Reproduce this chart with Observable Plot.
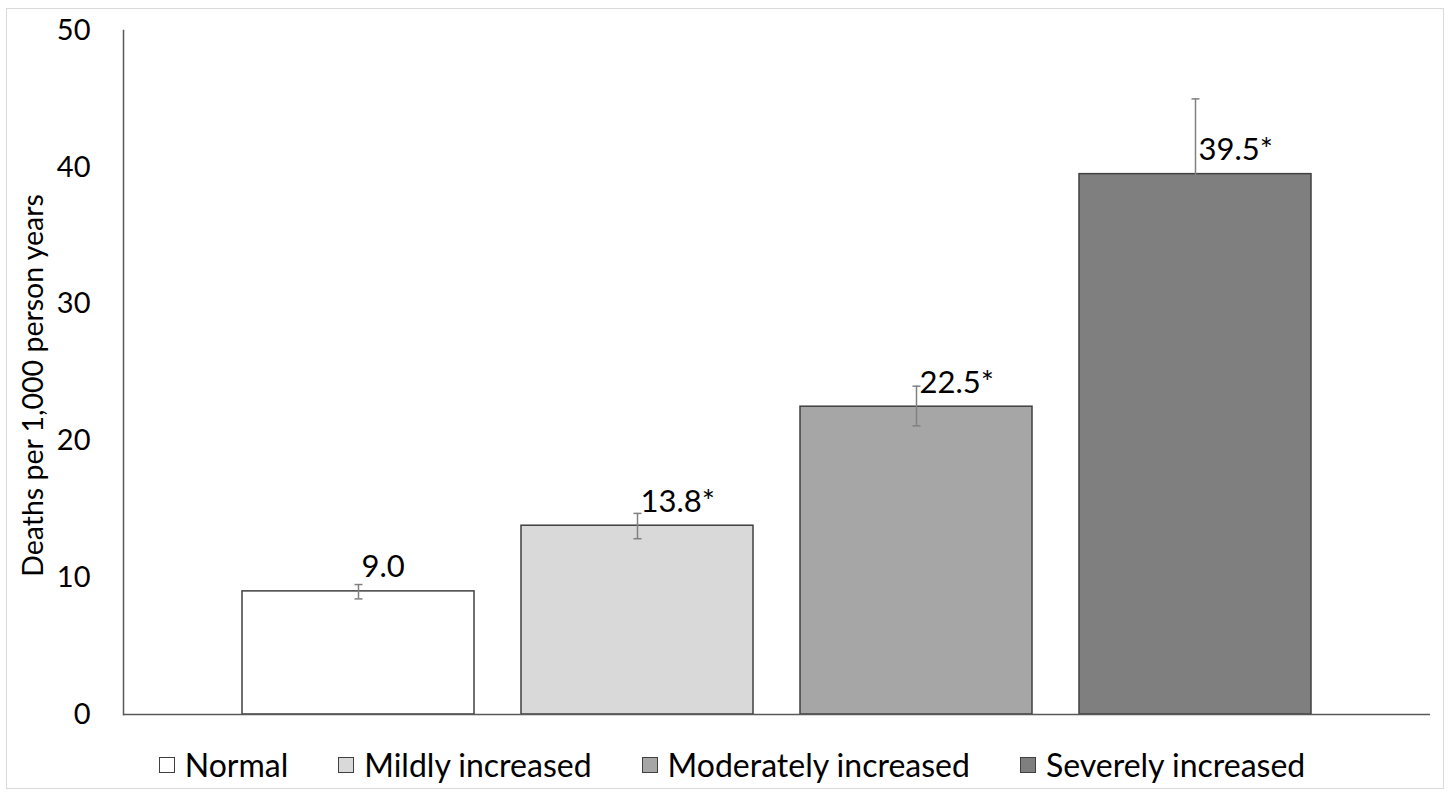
<!DOCTYPE html>
<html>
<head>
<meta charset="utf-8">
<script src="https://cdn.jsdelivr.net/npm/d3@7"></script>
<script src="https://cdn.jsdelivr.net/npm/@observablehq/plot@0.6"></script>
<style>
  html, body { margin: 0; padding: 0; background: #fff; }
  body { width: 1452px; height: 796px; position: relative; overflow: hidden; font-family: Lato, "Open Sans", sans-serif; }
  #frame { position: absolute; left: 6px; top: 8px; width: 1438px; height: 781px; border: 1.5px solid #d9d9d9; box-sizing: border-box; }
  #chart { position: absolute; left: 0; top: 0; }
  #legend { position: absolute; left: 0; top: 745px; width: 1452px; display: flex; justify-content: center; gap: 50px; font-size: 32px; line-height: 40px; color: #000; padding-left: 12px; box-sizing: border-box; }
  .item { display: flex; align-items: center; }
  .sw { width: 16px; height: 16px; border: 1.5px solid #404040; margin-right: 10px; box-sizing: border-box; }
</style>
</head>
<body>
<div id="frame"></div>
<div id="chart"></div>
<div id="legend"></div>
<script>
const categories = ["Normal", "Mildly increased", "Moderately increased", "Severely increased"];
const values = [9.0, 13.8, 22.5, 39.5];
const lower = [8.45, 12.85, 21.1, 34.7];
const upper = [9.5, 14.7, 24.0, 45.0];
const labels = ["9.0", "13.8*", "22.5*", "39.5*"];
const colors = ["#ffffff", "#d9d9d9", "#a6a6a6", "#7f7f7f"];
const yTicks = [0, 10, 20, 30, 40, 50];

const data = categories.map((c, i) => ({cat: c, v: values[i], lo: lower[i], hi: upper[i], label: labels[i]}));

const capSymbol = {
  draw(context, size) {
    const r = 4;
    context.moveTo(-r, 0);
    context.lineTo(r, 0);
  }
};

const plot = Plot.plot({
  width: 1452,
  height: 740,
  marginTop: 30,
  marginBottom: 26,
  marginLeft: 123,
  marginRight: 22,
  style: {fontFamily: "Lato, 'Open Sans', sans-serif", background: "transparent"},
  x: {domain: categories, paddingInner: 0.168, paddingOuter: 0.418, axis: null},
  y: {domain: [0, 50], ticks: yTicks, label: null},
  color: {domain: categories, range: colors},
  marks: [
    Plot.barY(data, {x: "cat", y: "v", fill: "cat", stroke: "#404040", strokeWidth: 1.5}),
    Plot.ruleY([0], {stroke: "#595959", strokeWidth: 1.5}),
    Plot.frame({anchor: "left", stroke: "#595959", strokeWidth: 1.5}),
    Plot.ruleX(data, {x: "cat", y1: "lo", y2: "hi", stroke: "#808080", strokeWidth: 1.5}),
    Plot.dot(data, {x: "cat", y: "lo", symbol: capSymbol, stroke: "#808080", strokeWidth: 1.5, fill: "none", r: 4}),
    Plot.dot(data, {x: "cat", y: "hi", symbol: capSymbol, stroke: "#808080", strokeWidth: 1.5, fill: "none", r: 4}),
    Plot.text(data, {x: "cat", y: "v", text: "label", textAnchor: "start", dx: 3, dy: -24, fontSize: 31, fill: "#000"}),
    Plot.axisY({ticks: yTicks, tickSize: 0, tickPadding: 33, fontSize: 29, color: "#000", label: null}),
    Plot.text(["Deaths per 1,000 person years"], {frameAnchor: "left", textAnchor: "middle", dx: -90, dy: 13, rotate: -90, fontSize: 28.5, fill: "#000"})
  ]
});
document.getElementById("chart").appendChild(plot);

const legend = document.getElementById("legend");
categories.forEach((c, i) => {
  const item = document.createElement("div");
  item.className = "item";
  const sw = document.createElement("div");
  sw.className = "sw";
  sw.style.background = colors[i];
  const t = document.createElement("span");
  t.textContent = c;
  item.appendChild(sw);
  item.appendChild(t);
  legend.appendChild(item);
});
</script>
</body>
</html>
